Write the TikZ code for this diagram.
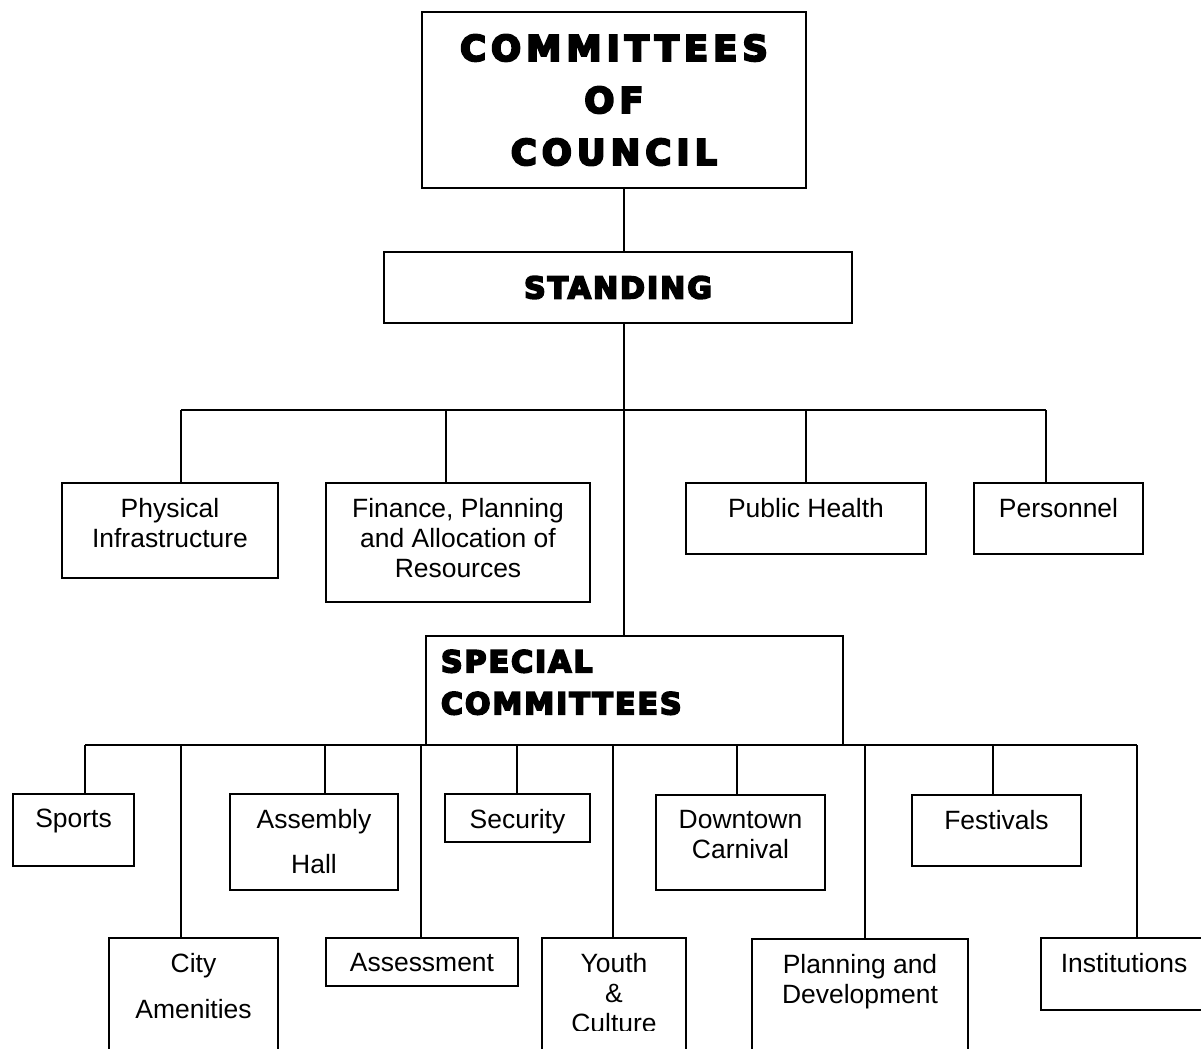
\documentclass[tikz,border=0pt]{standalone}
\usepackage{fontspec}
\setmainfont{Liberation Sans}
\newfontfamily\titlefont{DejaVu Sans}[LetterSpace=14.5, BoldFeatures={FakeBold=6}]
\newfontfamily\headfont{DejaVu Sans}[LetterSpace=6.7, BoldFeatures={FakeBold=6}]
\usetikzlibrary{calc}

% one drawing unit
\newlength{\pxu}
\setlength{\pxu}{0.5669pt}
% centred text hanging from the top of a box of given width/height
\newcommand{\boxtext}[3]{\parbox[t][#2\pxu][t]{#1\pxu}{\centering\vspace*{15.5\pxu}#3}}

\begin{document}
\begin{tikzpicture}[
        x=0.5669pt, y=-0.5669pt,
        box/.style={draw, line width=1pt, inner sep=0pt, outer sep=0pt, anchor=north, font=\fontsize{15pt}{17pt}\selectfont},
        line/.style={line width=1pt}
    ]
        \fill[white] (0,0) rectangle (1201,1049);
        \path[use as bounding box, clip] (0,0) rectangle (1201,1049);

        % Top
        \node (council) [box, anchor=center, minimum width=384\pxu, minimum height=176\pxu, align=center,
            font={\titlefont\bfseries\fontsize{20pt}{29.5pt}\selectfont}] at (614,100) {COMMITTEES\\OF\\COUNCIL};
        \node (standing) [box, anchor=center, minimum width=468\pxu, minimum height=71\pxu,
            font={\headfont\bfseries\fontsize{17pt}{20pt}\selectfont}] at (618,287.5) {STANDING};
        \coordinate (trunk) at (624,410);

        % Standing committees
        \node (phys) [box] at (170,483) {\boxtext{216}{95}{Physical\\Infrastructure}};
        \node (fin) [box] at (458,483) {\boxtext{264}{119}{Finance, Planning\\and Allocation of\\Resources}};
        \node (pubh) [box] at (806,483) {\boxtext{240}{71}{Public Health}};
        \node (pers) [box] at (1058.5,483) {\boxtext{169}{71}{Personnel}};

        % Special committees
        \node (special) [box] at (634.5,636) {\parbox[t][109\pxu][t]{417\pxu}{\raggedright\leftskip=15\pxu
            \headfont\bfseries\fontsize{17pt}{23.8pt}\selectfont\vspace*{14\pxu}SPECIAL\\COMMITTEES}};

        \node (sports) [box] at (73.5,794) {\boxtext{121}{72}{Sports}};
        \node (assembly) [box] at (314,794) {\boxtext{168}{96}{Assembly\\[8.5pt]Hall}};
        \node (security) [box] at (517.5,794) {\boxtext{145}{48}{Security}};
        \node (downtown) [box] at (740.5,795) {\boxtext{169}{95}{Downtown\\Carnival}};
        \node (festivals) [box] at (996.5,795) {\boxtext{169}{71}{Festivals}};

        \node (city) [box] at (193.5,938) {\boxtext{169}{140}{City\\[9pt]Amenities}};
        \node (assess) [box] at (422,938) {\boxtext{192}{48}{Assessment}};
        \begin{scope}
            \clip (0,0) rectangle (1201,1030);
            \node (youth) [box] at (614,938) {\boxtext{144}{140}{Youth\\\&\\Culture}};
        \end{scope}
        \draw[line] (youth.south west) -- (youth.west);
        \draw[line] (youth.south east) -- (youth.east);
        \node (planning) [box] at (860,939) {\boxtext{216}{140}{Planning and\\Development}};
        \node (inst) [box] at (1124,938) {\boxtext{166}{72}{Institutions}};

        % Trunk
        \draw[line] (council.south -| trunk) -- (standing.north -| trunk);
        \draw[line] (standing.south -| trunk) -- (special.north -| trunk);

        % Standing bus
        \draw[line] ([xshift=11\pxu]phys.north |- trunk) -- ([xshift=-12.5\pxu]pers.north |- trunk);
        \foreach \n/\dx in {phys/11, fin/-12, pubh/0, pers/-12.5}
            \draw[line] ([xshift=\dx\pxu]\n.north |- trunk) -- ([xshift=\dx\pxu]\n.north);

        % Special bus
        \draw[line] ([xshift=11.5\pxu]sports.north |- special.south) -- ([xshift=13\pxu]inst.north |- special.south);
        \foreach \n/\dx in {sports/11.5, city/-12.5, assembly/11, assess/-1, security/-0.5,
                youth/-1, downtown/-3.5, planning/5, festivals/-3.5, inst/13}
            \draw[line] ([xshift=\dx\pxu]\n.north |- special.south) -- ([xshift=\dx\pxu]\n.north);
    \end{tikzpicture}
\end{document}
